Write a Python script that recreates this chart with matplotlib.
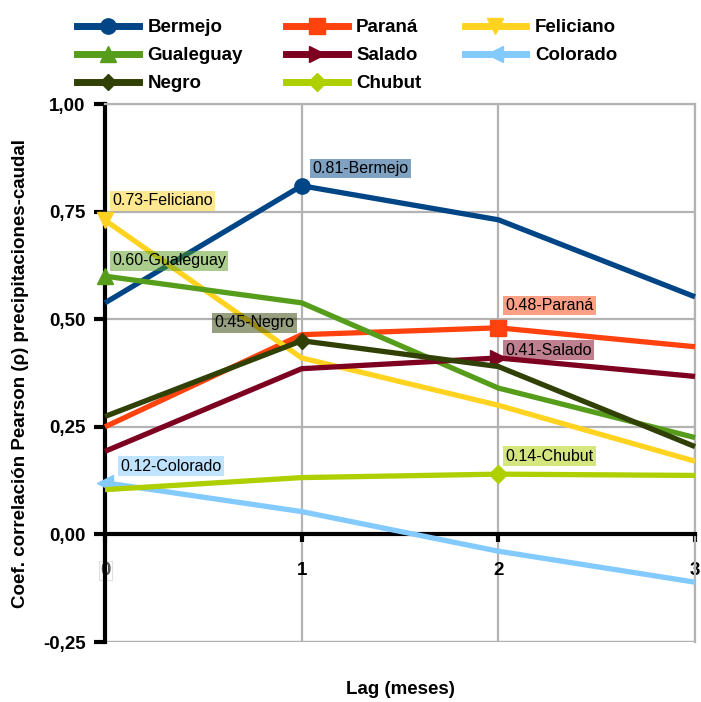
import matplotlib
matplotlib.use("Agg")
import matplotlib.pyplot as plt

lags = [0, 1, 2, 3]
names = ["Bermejo", "Paraná", "Feliciano", "Gualeguay", "Salado", "Colorado", "Negro", "Chubut"]
bermejo = [0.538, 0.81, 0.731, 0.552]
parana = [0.25, 0.464, 0.48, 0.436]
feliciano = [0.73, 0.41, 0.30, 0.17]
gualeguay = [0.60, 0.538, 0.34, 0.225]
salado = [0.193, 0.385, 0.41, 0.367]
colorado = [0.12, 0.053, -0.039, -0.111]
negro = [0.274, 0.45, 0.39, 0.204]
chubut = [0.104, 0.132, 0.14, 0.137]
series = [bermejo, parana, feliciano, gualeguay, salado, colorado, negro, chubut]
colors = ["#004586", "#ff420e", "#ffd320", "#579d1c", "#7e0021", "#83caff", "#314004", "#aecf00"]
markers = ["o", "s", "v", "^", ">", "<", "D", "D"]
msizes = [11, 11, 12, 12, 12, 12, 8, 9]
# label offsets (points) and alignment
offsets = [(8, 12.5), (5, 16), (5, 14), (5, 11), (5, 5.5), (11, 12), (-5, 13), (5, 13)]
has = ["left", "left", "left", "left", "left", "left", "right", "left"]

yticks = [-0.25, 0.0, 0.25, 0.5, 0.75, 1.0]
ytick_labels = ["-0,25", "0,00", "0,25", "0,50", "0,75", "1,00"]

fig = plt.figure(figsize=(7.01, 7.02), dpi=100)
ax = fig.add_axes([105/701, 1-642/702, 590/701, 538/702])

bold = dict(family="Liberation Sans", weight="bold")
fs = 13.5

handles = []
for i, (nm, ys, c, m, ms) in enumerate(zip(names, series, colors, markers, msizes)):
    ax.plot(lags, ys, color=c, lw=3.8, zorder=3+i, clip_on=False, solid_capstyle="butt")
    k = max(range(len(ys)), key=lambda j: ys[j])
    ax.plot([lags[k]], [ys[k]], marker=m, ms=ms, color=c, zorder=3+i, clip_on=False)
    h, = ax.plot([], [], color=c, lw=5, marker=m, ms=ms)
    handles.append(h)
    ax.annotate(f"{ys[k]:.2f}-{nm}", (lags[k], ys[k]), xytext=offsets[i], textcoords="offset points",
                ha=has[i], va="center", fontsize=11.5, family="Liberation Sans", zorder=20,
                bbox=dict(boxstyle="square,pad=0.15", fc=c, alpha=0.5, ec="none"))

ax.set_xlim(0, 3)
ax.set_ylim(-0.25, 1.0)
ax.grid(True, color="#b3b3b3", lw=1.6, zorder=0)
ax.set_axisbelow(True)
for s in ["top", "right"]:
    ax.spines[s].set_color("#b3b3b3")
    ax.spines[s].set_linewidth(1.6)
ax.spines["left"].set_linewidth(3)
ax.spines["bottom"].set_position(("data", 0))
ax.spines["bottom"].set_linewidth(3)
ax.axhline(-0.25, color="#b3b3b3", lw=1.6, zorder=0)

ax.set_yticks(yticks)
ax.set_yticklabels(ytick_labels, fontsize=fs, **bold)
ax.set_xticks(lags)
ax.set_xticklabels([str(v) for v in lags], fontsize=fs, **bold)
ax.tick_params(axis="y", direction="out", length=8, width=3, pad=6)
ax.tick_params(axis="x", direction="out", length=6, width=3, pad=14)
lbl0 = ax.get_xticklabels()[0]
lbl0.set_bbox(dict(fc="white", ec="#e0e0e0", lw=0.8, pad=1))
lbl0.set_color("#555555")

ax.set_ylabel("Coef. correlación Pearson (ρ) precipitaciones-caudal", fontsize=fs, labelpad=10, **bold)
ax.set_xlabel("Lag (meses)", fontsize=fs, **bold)
ax.xaxis.set_label_coords(0.5, -0.072)

order = [0, 3, 6, 1, 4, 7, 2, 5]
fig.legend([handles[i] for i in order], [names[i] for i in order], ncol=3, loc="upper left",
           bbox_to_anchor=(77/701, 1-19/702), frameon=False, prop=dict(size=fs, **bold),
           borderpad=0, borderaxespad=0,
           handlelength=3.3, handletextpad=0.45, columnspacing=2.3, labelspacing=0.58)

fig.savefig("out.png", dpi=100)
